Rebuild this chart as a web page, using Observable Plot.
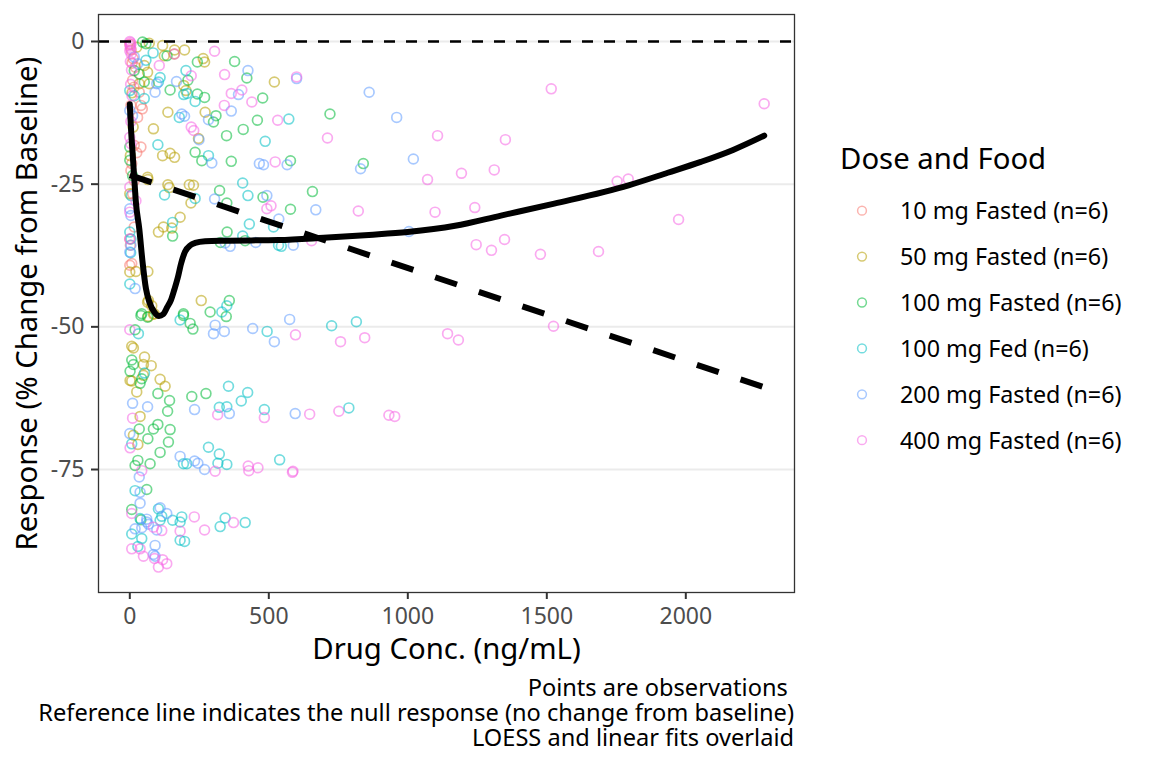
<!DOCTYPE html>
<html>
<head>
<meta charset="utf-8">
<script src="https://cdn.jsdelivr.net/npm/d3@7"></script>
<script src="https://cdn.jsdelivr.net/npm/@observablehq/plot@0.6"></script>
<style>
  html, body { margin: 0; padding: 0; background: white; }
  #wrap { position: relative; width: 1152px; height: 768px; font-family: "Noto Sans", sans-serif; }
  #chart { position: absolute; left: 0; top: 0; }
  [aria-label="x-axis tick"], [aria-label="y-axis tick"] { stroke: #333333; stroke-width: 2px; }
  [aria-label="x-axis tick label"], [aria-label="y-axis tick label"] { fill: #4D4D4D; }
  #legend { position: absolute; left: 820px; top: 130px; }
  #caption { position: absolute; right: 358px; top: 675px; text-align: right; font-size: 23.6px; line-height: 25px; color: black; white-space: pre; }
</style>
</head>
<body>
<div id="wrap">
  <div id="chart"></div>
  <svg id="legend" width="332" height="340"></svg>
  <div id="caption"></div>
</div>
<script>
const groups = ["10 mg Fasted (n=6)", "50 mg Fasted (n=6)", "100 mg Fasted (n=6)", "100 mg Fed (n=6)", "200 mg Fasted (n=6)", "400 mg Fasted (n=6)"];
const groupColors = ["#F8766D", "#B79F00", "#00BA38", "#00BFC4", "#619CFF", "#F564E3"];
const legendTitle = "Dose and Food";
const xLabel = "Drug Conc. (ng/mL)";
const yLabel = "Response (% Change from Baseline)";
const captionLines = ["Points are observations ", "Reference line indicates the null response (no change from baseline)", "LOESS and linear fits overlaid"];
const xTicks = [0, 500, 1000, 1500, 2000];
const yTicks = [0, -25, -50, -75];

// observations: [concentration, response]
const obs10 = [[0,-0.5],[5,-1.5],[8,-3.8],[12,-3.0],[20,-4.5],[10,-6.8],[15,-8.0],[34,-8.9],[40,-11.2],[4,-11.2],[45,-11.8],[28,-13.3],[16,-18.2],[40,-18.5],[25,-19.5],[7,-21.4],[4,-22.6],[16,-24.4],[10,-26.7],[16,-32.5],[0,-34.6],[2,-35.7],[7,-38.9],[0,-39.2]];
const obs50 = [[25,-1.0],[70,-0.3],[118,-0.7],[161,-1.5],[197,-1.5],[160,-2.2],[124,-2.5],[264,-3.0],[269,-3.6],[52,-4.2],[64,-5.4],[520,-7.1],[34,-7.4],[70,-7.4],[194,-7.7],[202,-8.6],[8,-9.0],[137,-12.4],[271,-12.4],[12,-15.0],[85,-15.3],[247,-17.0],[145,-19.6],[118,-20.0],[2,-20.0],[161,-20.3],[64,-23.8],[65,-24.2],[137,-25.1],[214,-25.1],[229,-25.2],[142,-25.6],[0,-26.7],[220,-28.3],[181,-30.8],[121,-32.5],[151,-32.7],[103,-33.4],[0,-40.4],[22,-40.3],[65,-40.3],[257,-45.4],[67,-45.4],[64,-45.7],[79,-46.3],[88,-47.7],[85,-47.8],[67,-48.2],[7,-53.4],[13,-53.7],[53,-55.3],[49,-56.6],[77,-56.8],[49,-58.5],[109,-59.2],[1,-59.4],[7,-59.5],[127,-60.4],[25,-61.4],[37,-65.7],[13,-69.0],[29,-70.6]];
const obs100 = [[46,-0.1],[58,-0.4],[134,-2.5],[377,-3.5],[243,-3.6],[16,-5.1],[34,-5.7],[421,-6.4],[209,-6.8],[52,-7.1],[145,-8.5],[243,-9.2],[269,-9.8],[478,-9.9],[720,-12.7],[310,-13.0],[459,-13.8],[301,-14.1],[408,-15.4],[348,-16.5],[0,-18.5],[235,-19.4],[0,-20.8],[259,-20.9],[578,-20.9],[365,-21.0],[840,-21.4],[10,-23.5],[323,-26.1],[657,-26.3],[479,-27.3],[349,-28.3],[578,-29.4],[350,-33.4],[154,-34.1],[415,-34.9],[326,-35.2],[358,-45.4],[289,-47.4],[193,-47.7],[43,-47.7],[40,-48.0],[193,-48.0],[347,-48.2],[64,-48.3],[217,-49.4],[227,-50.4],[19,-50.5],[7,-55.8],[13,-56.6],[1,-57.8],[43,-59.1],[37,-59.9],[101,-61.7],[274,-61.7],[223,-62.2],[143,-62.9],[136,-64.8],[101,-67.1],[34,-67.9],[85,-67.9],[145,-68.0],[65,-69.6],[139,-70.2],[109,-72.0],[29,-73.4],[73,-74.0],[19,-74.3],[61,-78.5],[7,-82.0],[40,-83.8]];
const obsFed = [[84,-2.0],[58,-3.3],[202,-5.1],[109,-6.3],[103,-7.1],[0,-8.6],[206,-9.1],[194,-9.3],[16,-9.5],[52,-10.0],[235,-10.5],[178,-13.3],[572,-13.6],[487,-17.5],[101,-18.1],[283,-20.0],[406,-24.8],[5,-27.0],[125,-26.9],[425,-27.0],[235,-27.5],[154,-31.7],[430,-32.0],[517,-32.5],[0,-33.4],[406,-34.1],[4,-34.6],[535,-35.7],[545,-35.9],[3,-37.0],[0,-42.5],[349,-46.3],[331,-47.4],[181,-48.8],[815,-49.1],[726,-49.8],[494,-50.8],[31,-51.2],[53,-58.1],[355,-60.4],[424,-61.5],[401,-63.0],[349,-64.0],[322,-64.1],[788,-64.2],[484,-64.5],[7,-70.5],[283,-71.1],[322,-72.3],[539,-73.3],[317,-73.9],[193,-74.0],[205,-74.0],[349,-74.1],[19,-78.7],[103,-81.9],[115,-83.2],[187,-83.3],[343,-83.5],[37,-83.6],[109,-83.9],[154,-83.9],[181,-84.2],[415,-84.3],[325,-85.0],[7,-86.3],[43,-87.1],[181,-87.4],[197,-87.6],[29,-88.5]];
const obs200 = [[16,-2.7],[28,-3.9],[425,-5.1],[600,-6.5],[168,-7.0],[97,-7.4],[861,-8.9],[91,-8.9],[391,-9.3],[0,-12.1],[365,-12.2],[187,-12.7],[10,-13.0],[197,-13.1],[960,-13.3],[283,-13.7],[249,-17.2],[1020,-20.6],[295,-21.3],[466,-21.4],[566,-21.6],[481,-21.6],[830,-22.3],[493,-27.0],[305,-27.6],[0,-29.3],[669,-29.5],[4,-30.5],[536,-31.1],[1004,-33.3],[453,-35.2],[343,-35.3],[4,-35.7],[588,-35.7],[361,-35.9],[0,-36.9],[19,-43.3],[575,-48.7],[307,-49.7],[442,-50.3],[340,-50.8],[301,-51.2],[520,-52.6],[10,-63.4],[64,-64.0],[233,-64.5],[358,-65.2],[595,-65.2],[0,-68.7],[181,-72.7],[233,-73.5],[245,-73.9],[269,-75.0],[34,-76.3],[37,-79.0],[37,-80.9],[109,-81.7],[133,-82.7],[61,-83.7],[61,-84.2],[67,-84.6],[43,-85.2],[19,-85.4],[97,-85.6],[91,-88.3],[85,-89.9],[91,-90.2]];
const obs400 = [[0,0],[2,-0.2],[4,-0.5],[1,-0.8],[3,-1.2],[0,-1.6],[305,-1.7],[5,-2.2],[161,-2.2],[2,-3.5],[106,-4.2],[6,-5.0],[341,-5.8],[221,-6.0],[600,-6.2],[3,-7.5],[1516,-8.3],[403,-8.5],[365,-9.1],[8,-9.5],[439,-10.6],[2282,-10.9],[340,-11.2],[532,-13.8],[4,-14.0],[221,-15.0],[230,-15.6],[1107,-16.5],[0,-16.8],[711,-16.9],[1351,-17.2],[4,-17.9],[523,-21.1],[1311,-22.5],[1193,-23.1],[1071,-24.2],[1793,-24.1],[1753,-24.5],[0,-25.5],[22,-27.9],[508,-28.8],[1241,-29.1],[493,-29.3],[822,-29.7],[0,-29.9],[1098,-29.9],[1974,-31.2],[0,-34.6],[1348,-34.7],[654,-34.9],[1246,-35.6],[1301,-36.6],[1686,-36.8],[1477,-37.3],[1524,-49.9],[0,-50.5],[1143,-51.2],[596,-51.4],[845,-51.9],[1182,-52.3],[758,-52.6],[752,-64.8],[647,-65.3],[316,-65.4],[932,-65.5],[953,-65.7],[484,-65.9],[10,-66.0],[1,-71.2],[426,-74.4],[461,-74.7],[43,-75.2],[428,-75.2],[307,-75.3],[587,-75.3],[585,-75.5],[7,-82.7],[232,-83.3],[373,-84.3],[85,-85.1],[269,-85.6],[115,-85.7],[181,-85.8],[7,-88.9],[37,-88.9],[49,-90.2],[89,-90.6],[118,-90.8],[133,-91.5],[103,-92.1]];

// LOESS fit
const loessConc = [0,4,10,16,22,34,46,58,70,88,105,120,135,148,160,172,185,199,218,235,271,339,535,697,860,999,1170,1335,1527,1794,1935,2054,2170,2282];
const loessResp = [-11,-15,-19.5,-24,-28.2,-32.8,-38.7,-43.3,-45.6,-47.4,-48.1,-47.8,-46.5,-45.3,-43.5,-41.5,-38.8,-36.8,-35.7,-35.3,-35.0,-34.9,-34.8,-34.4,-33.9,-33.4,-32.3,-30.5,-28.4,-25.2,-23.0,-21.1,-19.0,-16.5];
// linear fit
const lmConc = [0, 2282];
const lmResp = [-23.4, -60.6];

const obsSets = [obs10, obs50, obs100, obsFed, obs200, obs400];
const points = obsSets.flatMap((arr, i) => arr.map(([c, r]) => ({conc: c, resp: r, group: groups[i]})));
const loess = loessConc.map((c, i) => ({conc: c, resp: loessResp[i]}));
const lm = lmConc.map((c, i) => ({conc: c, resp: lmResp[i]}));

const fmt = d => String(d);

const chart = Plot.plot({
  width: 1152,
  height: 672,
  marginLeft: 98,
  marginRight: 358,
  marginTop: 14,
  marginBottom: 80,
  x: {domain: [-112.6, 2391]},
  y: {domain: [-96.55, 4.73]},
  color: {domain: groups, range: groupColors},
  style: {fontFamily: "Noto Sans", fontSize: "23px", background: "white", color: "black"},
  marks: [
    Plot.ruleY(yTicks, {stroke: "#EBEBEB", strokeWidth: 2}),
    Plot.dot(points, {x: "conc", y: "resp", stroke: "group", fill: "none", r: 4.9, strokeWidth: 1.7, strokeOpacity: 0.55}),
    Plot.ruleY([0], {stroke: "black", strokeWidth: 2.5, strokeDasharray: "11,11"}),
    Plot.line(loess, {x: "conc", y: "resp", stroke: "black", strokeWidth: 6, curve: "monotone-x"}),
    Plot.line(lm, {x: "conc", y: "resp", stroke: "black", strokeWidth: 6, strokeDasharray: "23,23", strokeLinecap: "butt"}),
    Plot.frame({stroke: "#333333", strokeWidth: 1.3}),
    Plot.axisX({ticks: xTicks, tickSize: 7, tickPadding: 8, tickFormat: fmt, label: null}),
    Plot.axisY({ticks: yTicks, tickSize: 7, tickPadding: 7, tickFormat: fmt, label: null}),
    Plot.text([xLabel], {text: d => d, frameAnchor: "bottom", lineAnchor: "middle", textAnchor: "middle", dy: 57.5, fontSize: 29.3, fill: "black"}),
    Plot.text([yLabel], {text: d => d, frameAnchor: "left", lineAnchor: "middle", textAnchor: "middle", dx: -71, rotate: -90, fontSize: 29.3, fill: "black"})
  ]
});
document.getElementById("chart").appendChild(chart);

// legend
const leg = d3.select("#legend");
leg.append("text").attr("x", 20).attr("y", 39).attr("font-size", 29.3).attr("font-family", "Noto Sans").attr("fill", "black").text(legendTitle);
groups.forEach((g, i) => {
  const cy = 80.7 + 45.9 * i;
  leg.append("circle").attr("cx", 42).attr("cy", cy).attr("r", 4.4)
    .attr("fill", "none").attr("stroke", groupColors[i]).attr("stroke-width", 1.5).attr("stroke-opacity", 0.55);
  leg.append("text").attr("x", 80).attr("y", cy + 8.3).attr("font-size", 23.3).attr("font-family", "Noto Sans").attr("fill", "black").text(g);
});

document.getElementById("caption").textContent = captionLines.join("\n");
</script>
</body>
</html>
